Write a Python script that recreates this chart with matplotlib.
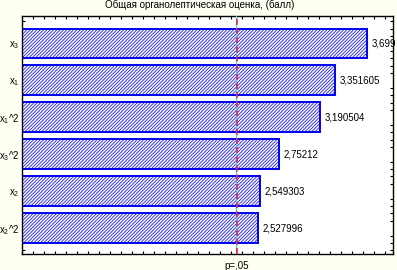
import matplotlib.pyplot as plt
import matplotlib.transforms as mtransforms
from matplotlib.ticker import MultipleLocator, NullFormatter

plt.rcParams['font.family'] = ['Liberation Sans', 'DejaVu Sans']
plt.rcParams['mathtext.fontset'] = 'custom'
plt.rcParams['mathtext.rm'] = 'Liberation Sans'
plt.rcParams['mathtext.it'] = 'Liberation Sans'
plt.rcParams['hatch.linewidth'] = 0.5
plt.rcParams['hatch.color'] = '#3a3a95'

# effects, top to bottom as in the chart
labels = [r'x$_3$', r'x$_1$', r'x$_1$^2', r'x$_3$^2', r'x$_2$', r'x$_2$^2']
values = [3.699, 3.351605, 3.190504, 2.75212, 2.549303, 2.527996]
value_text = ['3,699', '3,351605', '3,190504', '2,75212', '2,549303', '2,527996']
p_crit = 2.306

fig = plt.figure(figsize=(3.97, 2.70), dpi=100, facecolor='#fffff2')
ax = fig.add_axes([22 / 397, 16 / 270, 371 / 397, 238 / 270])
ax.set_facecolor('white')

n = len(values)
pos = list(range(n - 1, -1, -1))
ax.barh(pos, values, height=0.81, color='#f4f4ff', edgecolor='#0000ee',
        linewidth=1.4, hatch='/' * 10, zorder=2)

for y, v, t in zip(pos, values, value_text):
    ax.text(v + 0.05, y, t, va='center', ha='left', fontsize=7, clip_on=False)

# significance line
ax.axvline(p_crit - 0.01, color='#33ddee', linewidth=0.8, zorder=3)
ax.axvline(p_crit, color='#ee1133', linewidth=1.1, linestyle=(0, (4, 2)), zorder=4)
trans = mtransforms.blended_transform_factory(ax.transData, ax.transAxes)
ax.text(p_crit, -0.03, 'p=,05', transform=trans, ha='center', va='top', fontsize=7)

ax.set_xlim(0, 3.977)
ax.set_ylim(-0.7, 5.745)
ax.set_yticks(pos)
ax.set_yticklabels(labels, fontsize=7)
ax.yaxis.set_minor_locator(MultipleLocator(0.2))
ax.xaxis.set_major_locator(MultipleLocator(0.118))
ax.xaxis.set_major_formatter(NullFormatter())
ax.tick_params(axis='both', which='both', direction='in', top=True, right=True,
               length=2.5, width=0.8)
ax.tick_params(axis='y', which='major', length=0, pad=2)
for s in ax.spines.values():
    s.set_linewidth(1.0)

fig.text(200 / 397, 1 - 5 / 270, 'Общая органолептическая оценка, (балл)',
         ha='center', va='center', fontsize=7)

fig.savefig('out.png', dpi=100, facecolor=fig.get_facecolor())
